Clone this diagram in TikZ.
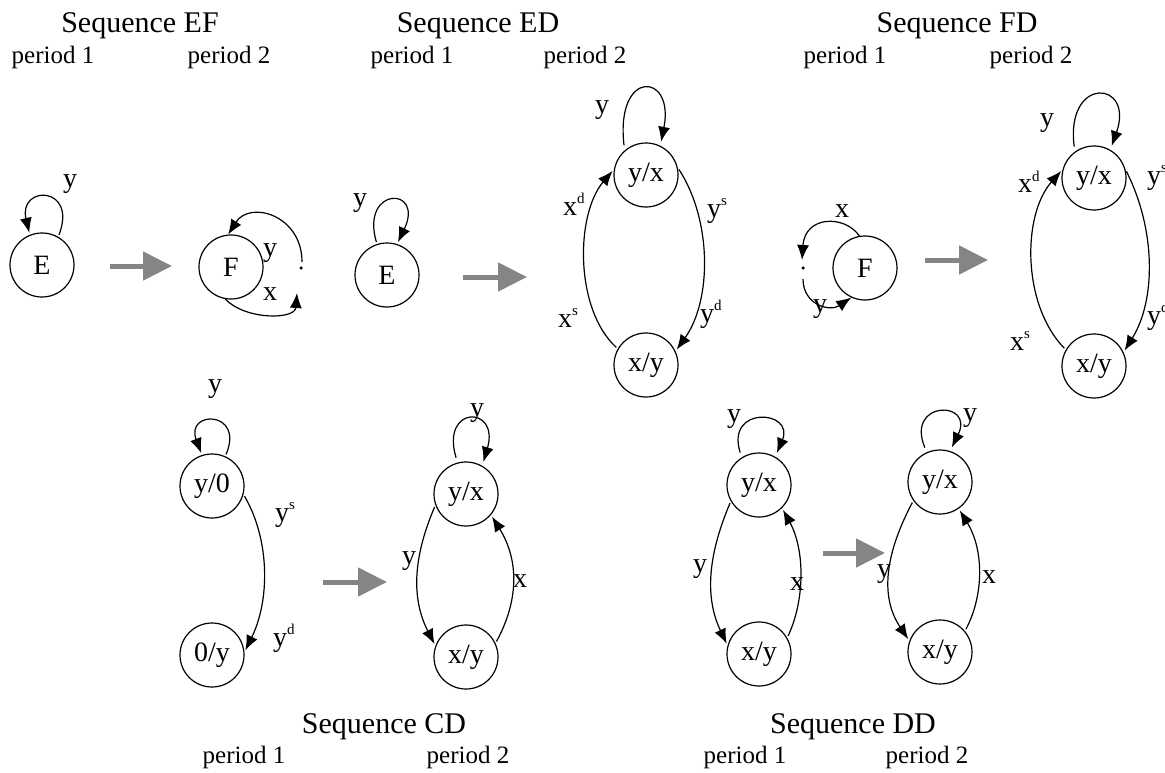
\documentclass[tikz,border=0pt]{standalone}
\usepackage{fontspec}
\setmainfont{Liberation Serif}
\usetikzlibrary{arrows.meta}
\definecolor{arrowgray}{HTML}{858585}
\newcommand\supx[2]{#1\raisebox{0.42em}{\fontsize{15}{15}\selectfont #2}}
\begin{document}
\begin{tikzpicture}[x=1pt,y=-1pt,
  st/.style={circle,draw,line width=1.2pt,minimum size=64pt,inner sep=0pt,font=\fontsize{28}{30}\selectfont},
  edge/.style={line width=1.2pt,-{Latex[length=15pt,width=12pt]}},
  loopgap/.style={shorten <=5pt,shorten >=4pt},
  smallgap/.style={shorten <=2pt,shorten >=2pt},
  bigarrow/.style={draw=arrowgray,line width=5pt,-{Triangle[length=29pt,width=28pt]}},
  lab/.style={font=\fontsize{28}{30}\selectfont,inner sep=0pt,anchor=base west},
  ttl/.style={font=\fontsize{30}{32}\selectfont,inner sep=0pt,anchor=base},
  per/.style={font=\fontsize{25}{27}\selectfont,inner sep=0pt,anchor=base},
  dotnode/.style={circle,fill,inner sep=0pt,minimum size=3.5pt}]
\useasboundingbox (0,0) rectangle (1165,773);

% ---------------- titles ----------------
\node[ttl] (tEF) at (140,33) {Sequence EF};
\node[per] (pEF1) at (53,64) {period 1};
\node[per] (pEF2) at (229,64) {period 2};
\node[ttl] (tED) at (478,33) {Sequence ED};
\node[per] (pED1) at (412,64) {period 1};
\node[per] (pED2) at (585,64) {period 2};
\node[ttl] (tFD) at (957,33) {Sequence FD};
\node[per] (pFD1) at (845,64) {period 1};
\node[per] (pFD2) at (1031,64) {period 2};
\node[ttl] (tCD) at (384,733) {Sequence CD};
\node[per] (pCD1) at (244,763) {period 1};
\node[per] (pCD2) at (468,763) {period 2};
\node[ttl] (tDD) at (853,733) {Sequence DD};
\node[per] (pDD1) at (745,763) {period 1};
\node[per] (pDD2) at (927,763) {period 2};

% ---------------- Sequence EF ----------------
\node[st] (E1) at (42,265) {E};
\draw[edge,smallgap] (E1.60) .. controls (78,185) and (18,185) .. (E1.112);
\node[lab] (lE1) at (63,188) {y};
\coordinate (ga1s) at (110,266);
\coordinate (ga1e) at (172,266);
\draw[bigarrow] (ga1s) -- (ga1e);
\node[st] (F1) at (231,267) {F};
\node[dotnode] (d1) at (301,268) {};
\coordinate (d1lo) at (297,293);
\coordinate (d1hi) at (302,262);
\draw[edge] (F1.260) .. controls (245,320) and (295,320) .. (d1lo);
\draw[edge] (d1hi) .. controls (302,215) and (250,200) .. (F1.95);
\node[lab] (lF1y) at (263,256) {y};
\node[lab] (lF1x) at (263,300) {x};

% ---------------- Sequence ED ----------------
\node[st] (E2) at (387,275) {E};
\draw[edge,smallgap] (E2.108) .. controls (360,186) and (425,186) .. (E2.72);
\node[lab] (lE2) at (353,207) {y};
\coordinate (ga2s) at (463,277);
\coordinate (ga2e) at (527,277);
\draw[bigarrow] (ga2s) -- (ga2e);
\node[st] (yx2) at (646,175) {y/x};
\node[st] (xy2) at (646,365) {x/y};
\draw[edge,loopgap] (yx2.131) .. controls (615,68) and (675,72) .. (yx2.64);
\node[lab] (lyx2) at (595,114) {y};
\draw[edge,smallgap] (yx2.13) .. controls (712,220) and (712,300) .. (xy2.25);
\draw[edge,smallgap] (xy2.150) .. controls (575,310) and (575,215) .. (yx2.170);
\node[lab] (lys2) at (707,217) {\supx{y}{s}};
\node[lab] (lyd2) at (700,322) {\supx{y}{d}};
\node[lab] (lxd2) at (563,215) {\supx{x}{d}};
\node[lab] (lxs2) at (558,327) {\supx{x}{s}};

% ---------------- Sequence FD ----------------
\node[st] (F2) at (865,268) {F};
\node[dotnode] (d2) at (803,268) {};
\coordinate (d2hi) at (802,260);
\coordinate (d2lo) at (803,279);
\draw[edge] (F2.100) .. controls (845,215) and (805,215) .. (d2hi);
\draw[edge] (d2lo) .. controls (803,305) and (830,312) .. (F2.245);
\node[lab] (lF2x) at (835,217) {x};
\node[lab] (lF2y) at (813,312) {y};
\coordinate (ga3s) at (925,260);
\coordinate (ga3e) at (988,260);
\draw[bigarrow] (ga3s) -- (ga3e);
\node[st] (yx3) at (1094,178) {y/x};
\node[st] (xy3) at (1094,366) {x/y};
\draw[edge,loopgap] (yx3.126) .. controls (1065,75) and (1135,80) .. (yx3.60);
\node[lab] (lyx3) at (1040,127) {y};
\draw[edge,smallgap] (yx3.15) .. controls (1156,230) and (1156,300) .. (xy3.25);
\draw[edge,smallgap] (xy3.150) .. controls (1022,305) and (1022,215) .. (yx3.165);
\node[lab] (lys3) at (1147,184) {\supx{y}{s}};
\node[lab] (lyd3) at (1147,324) {\supx{y}{d}};
\node[lab] (lxd3) at (1018,193) {\supx{x}{d}};
\node[lab] (lxs3) at (1010,350) {\supx{x}{s}};

% ---------------- Sequence CD ----------------
\node[st] (y0) at (212,486) {y/0};
\node[st] (oy) at (212,655) {0/y};
\draw[edge,smallgap] (y0.66) .. controls (245,410) and (185,410) .. (y0.108);
\node[lab] (ly0) at (208,392) {y};
\draw[edge,smallgap] (y0.-15) .. controls (270,540) and (270,600) .. (oy.5);
\node[lab] (lys4) at (275,521) {\supx{y}{s}};
\node[lab] (lyd4) at (273,646) {\supx{y}{d}};
\coordinate (ga4s) at (323,582);
\coordinate (ga4e) at (387,582);
\draw[bigarrow] (ga4s) -- (ga4e);
\node[st] (yx4) at (466,494) {y/x};
\node[st] (xy4) at (466,657) {x/y};
\draw[edge,loopgap] (yx4.105) .. controls (440,405) and (500,405) .. (yx4.60);
\node[lab] (lyx4) at (470,416) {y};
\draw[edge,smallgap] (yx4.200) .. controls (412,560) and (412,600) .. (xy4.160);
\draw[edge,smallgap] (xy4.25) .. controls (519,600) and (519,560) .. (yx4.-40);
\node[lab] (ly4) at (402,564) {y};
\node[lab] (lx4) at (513,587) {x};

% ---------------- Sequence DD ----------------
\node[st] (yx5) at (759,485) {y/x};
\node[st] (xy5) at (759,654) {x/y};
\draw[edge,loopgap] (yx5.122) .. controls (725,405) and (795,410) .. (yx5.60);
\node[lab] (lyx5) at (727,422) {y};
\draw[edge,smallgap] (yx5.210) .. controls (706,560) and (706,600) .. (xy5.165);
\draw[edge,smallgap] (xy5.30) .. controls (805,600) and (805,550) .. (yx5.-45);
\node[lab] (ly5) at (693,572) {y};
\node[lab] (lx5) at (790,590) {x};
\coordinate (ga5s) at (823,553);
\coordinate (ga5e) at (885,553);
\draw[bigarrow] (ga5s) -- (ga5e);
\node[st] (yx6) at (940,482) {y/x};
\node[st] (xy6) at (940,652) {x/y};
\draw[edge,loopgap] (yx6.114) .. controls (905,400) and (975,400) .. (yx6.72);
\node[lab] (lyx6) at (963,421) {y};
\draw[edge,smallgap] (yx6.215) .. controls (882,560) and (882,600) .. (xy6.160);
\draw[edge,smallgap] (xy6.40) .. controls (984,595) and (984,550) .. (yx6.-55);
\node[lab] (ly6) at (877,577) {y};
\node[lab] (lx6) at (982,583) {x};
\end{tikzpicture}
\end{document}
